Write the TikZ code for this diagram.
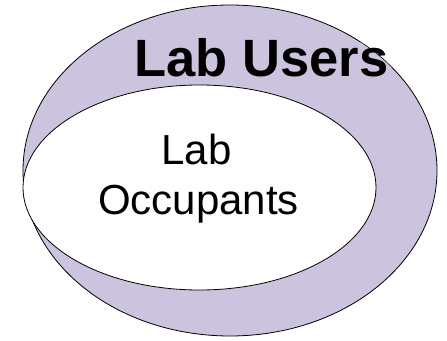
\documentclass[tikz,border=0pt]{standalone}
\usepackage{fontspec}
\setmainfont{Liberation Sans}
\usetikzlibrary{shapes.geometric}
\definecolor{lilac}{RGB}{204,196,222}
\begin{document}
\begin{tikzpicture}[x=1pt,y=1pt,
  setshape/.style={ellipse, draw=black, line width=0.8pt, inner sep=0pt},
  bigtext/.style={font=\fontsize{52.5}{60}\selectfont\bfseries, inner sep=0pt, anchor=base},
  smalltext/.style={font=\fontsize{42}{48}\selectfont, inner sep=0pt, anchor=base}]
\useasboundingbox (0,0) rectangle (447,340);
\node[setshape, fill=lilac, minimum width=414pt, minimum height=331pt] (users) at (230,169.5) {};
\begin{scope}
  \clip (230,169.5) ellipse [x radius=206.6pt, y radius=165.1pt];
  \fill[lilac] (328,263) rectangle (392,298);
\end{scope}
\node[bigtext] (userslabel) at (261.5,263) {Lab Users};
\node[setshape, fill=white, minimum width=353pt, minimum height=205pt] (occ) at (199.5,152.5) {};
\node[smalltext] (occ1) at (196.5,175) {Lab};
\node[smalltext] (occ2) at (198.5,125) {Occupants};
\end{tikzpicture}
\end{document}
